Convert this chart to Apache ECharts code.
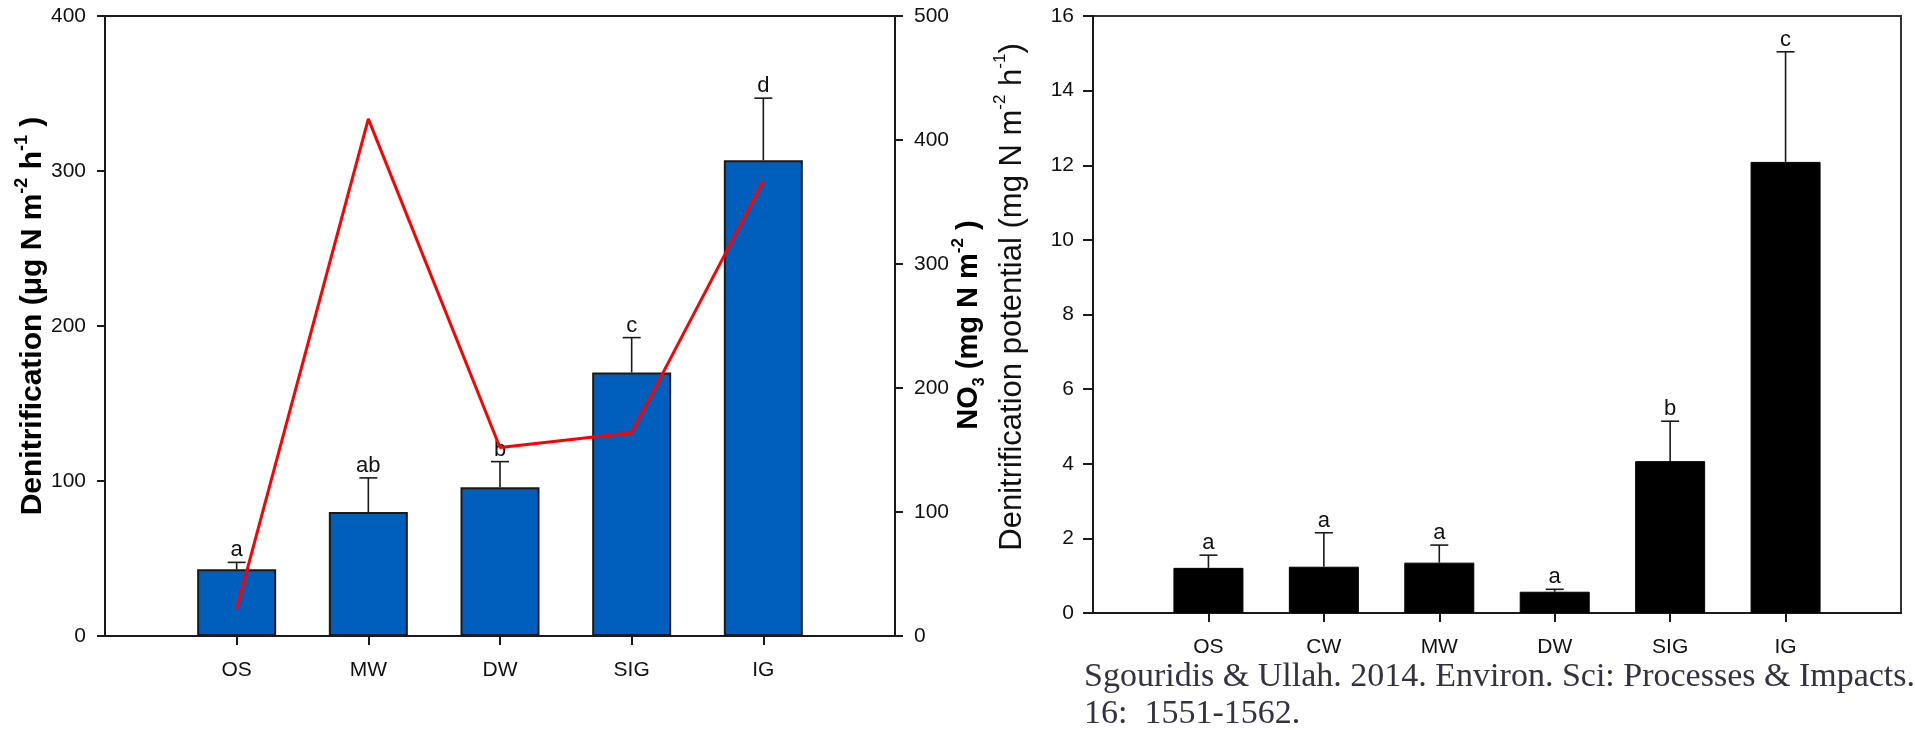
<!DOCTYPE html>
<html>
<head>
<meta charset="utf-8">
<script src="https://cdn.jsdelivr.net/npm/echarts@6/dist/echarts.min.js"></script>
<style>
  html, body { margin: 0; padding: 0; background: #ffffff; }
  #chart { width: 1915px; height: 730px; }
</style>
</head>
<body>
<div id="chart"></div>
<script>
// Left panel: field denitrification (bars, left axis) and soil nitrate (line, right axis)
const sitesA = ['OS', 'MW', 'DW', 'SIG', 'IG'];
const denitA = [43, 80, 96, 170, 307];          // µg N m-2 h-1
const denitSeA = [4.5, 22, 16.5, 22.5, 40];     // standard error (upper bar)
const lettersA = ['a', 'ab', 'b', 'c', 'd'];
const nitrateA = [22, 417, 152, 164, 367];      // mg N m-2

// Right panel: denitrification potential
const sitesB = ['OS', 'CW', 'MW', 'DW', 'SIG', 'IG'];
const potentialB = [1.21, 1.24, 1.35, 0.57, 4.07, 12.09];  // mg N m-2 h-1
const potentialSeB = [0.34, 0.91, 0.47, 0.065, 1.07, 2.95];
const lettersB = ['a', 'a', 'a', 'a', 'b', 'c'];

const citation = ['Sgouridis & Ullah. 2014. Environ. Sci: Processes & Impacts.', '16:  1551-1562.'];

const FONT = '"Liberation Sans", Arial, Helvetica, sans-serif';
const SERIF = '"Liberation Serif", "Times New Roman", serif';
const INK = '#1a1a1a';

// Blank slots on both ends so the categories sit away from the axes
const pad = arr => [' ', ...arr, '  '];
const padData = arr => ['-', ...arr, '-'];

function errorBars(means, ses, letters, capHalf, fontSize) {
  return {
    data: means.map((m, i) => [i + 1, m, m + ses[i]]),
    renderItem: function (params, api) {
      const base = api.coord([api.value(0), api.value(1)]);
      const top = api.coord([api.value(0), api.value(2)]);
      const line = { stroke: INK, lineWidth: 1.6 };
      return {
        type: 'group',
        children: [
          { type: 'line', shape: { x1: base[0], y1: base[1], x2: top[0], y2: top[1] }, style: line },
          { type: 'line', shape: { x1: top[0] - capHalf, y1: top[1], x2: top[0] + capHalf, y2: top[1] }, style: line },
          { type: 'text', x: top[0], y: top[1] - 1,
            style: { text: letters[params.dataIndex], fontSize: fontSize, fontFamily: FONT,
                     fill: '#111', align: 'center', verticalAlign: 'bottom' } }
        ]
      };
    }
  };
}

function valueAxis(gridIndex, position, min, max, interval, tickLen) {
  return {
    type: 'value', gridIndex, position, min, max, interval,
    axisLine: { show: true, lineStyle: { color: INK, width: 2 } },
    axisTick: { show: true, inside: false, length: tickLen, lineStyle: { color: INK, width: 2 } },
    axisLabel: { color: '#111', fontSize: 21, fontFamily: FONT, margin: 19 },
    splitLine: { show: false }
  };
}

function categoryAxis(gridIndex, cats) {
  const n = cats.length + 2;
  return {
    type: 'category', gridIndex, data: pad(cats), boundaryGap: false,
    axisLine: { show: true, lineStyle: { color: INK, width: 2 } },
    axisTick: { show: true, inside: false, length: 9, alignWithLabel: true,
                interval: (i) => i > 0 && i < n - 1, lineStyle: { color: INK, width: 2 } },
    axisLabel: { color: '#111', fontSize: 21, fontFamily: FONT, margin: 24, interval: 0 },
    splitLine: { show: false }
  };
}

const ebA = errorBars(denitA, denitSeA, lettersA, 9, 22);
const ebB = errorBars(potentialB, potentialSeB, lettersB, 9, 22);

const supStyle = (size, bold, lh) => ({
  fontSize: size, fontWeight: bold ? 'bold' : 'normal', fontFamily: FONT,
  lineHeight: lh, verticalAlign: 'top', fill: '#000'
});

const option = {
  backgroundColor: '#ffffff',
  animation: false,
  grid: [
    { left: 105, top: 16, right: 1020, bottom: 94, show: true, borderColor: INK, borderWidth: 2, backgroundColor: 'transparent' },
    { left: 1093, top: 16, right: 14, bottom: 117, show: true, borderColor: '#333', borderWidth: 2, backgroundColor: 'transparent' }
  ],
  xAxis: [categoryAxis(0, sitesA), categoryAxis(1, sitesB)],
  yAxis: [
    valueAxis(0, 'left', 0, 400, 100, 8),
    valueAxis(0, 'right', 0, 500, 100, 8),
    valueAxis(1, 'left', 0, 16, 2, 10)
  ],
  series: [
    {
      name: 'Denitrification', type: 'bar', xAxisIndex: 0, yAxisIndex: 0,
      data: padData(denitA), barWidth: 79, z: 2,
      itemStyle: { color: '#005fbd', borderColor: INK, borderWidth: 2 }
    },
    {
      name: 'Denitrification SE', type: 'custom', xAxisIndex: 0, yAxisIndex: 0,
      data: ebA.data, renderItem: ebA.renderItem, z: 3, encode: { x: 0, y: [1, 2] }
    },
    {
      name: 'NO3', type: 'line', xAxisIndex: 0, yAxisIndex: 1,
      data: padData(nitrateA), symbol: 'none', z: 4,
      lineStyle: { color: '#ff0000', width: 3 }
    },
    {
      name: 'Denitrification potential', type: 'bar', xAxisIndex: 1, yAxisIndex: 2,
      data: padData(potentialB), barWidth: 70, z: 2,
      itemStyle: { color: '#000000', borderColor: '#000', borderWidth: 1 }
    },
    {
      name: 'Potential SE', type: 'custom', xAxisIndex: 1, yAxisIndex: 2,
      data: ebB.data, renderItem: ebB.renderItem, z: 3, encode: { x: 0, y: [1, 2] }
    }
  ],
  graphic: [
    {
      type: 'text', x: 33, y: 316, rotation: Math.PI / 2,
      style: {
        text: 'Denitrification (μg N m{sup|-2} h{sup|-1} )',
        fontSize: 30, fontWeight: 'bold', fontFamily: FONT, fill: '#000',
        align: 'center', verticalAlign: 'middle', lineHeight: 40,
        rich: { sup: supStyle(18, true, 12) }
      }
    },
    {
      type: 'text', x: 969, y: 325, rotation: Math.PI / 2,
      style: {
        text: 'NO{sub|3} (mg N m{sup|-2} )',
        fontSize: 29, fontWeight: 'bold', fontFamily: FONT, fill: '#000',
        align: 'center', verticalAlign: 'middle', lineHeight: 38,
        rich: {
          sup: supStyle(17, true, 12),
          sub: { fontSize: 16, fontWeight: 'bold', fontFamily: FONT, lineHeight: 20, verticalAlign: 'bottom', fill: '#000' }
        }
      }
    },
    {
      type: 'text', x: 1012, y: 297, rotation: Math.PI / 2,
      style: {
        text: 'Denitrification potential (mg N m{sup|-2} h{sup|-1})',
        fontSize: 31, fontFamily: FONT, fill: '#111',
        align: 'center', verticalAlign: 'middle', lineHeight: 40,
        rich: { sup: supStyle(17, false, 12) }
      }
    },
    {
      type: 'text', x: 1084, y: 677,
      style: { text: citation[0], fontSize: 34, fontFamily: SERIF,
               fill: '#33333f', align: 'left', verticalAlign: 'middle' }
    },
    {
      type: 'text', x: 1084, y: 714,
      style: { text: citation[1], fontSize: 34, fontFamily: SERIF,
               fill: '#33333f', align: 'left', verticalAlign: 'middle' }
    }
  ]
};

const chart = echarts.init(document.getElementById('chart'), null, { renderer: 'canvas' });
chart.setOption(option);
</script>
</body>
</html>
